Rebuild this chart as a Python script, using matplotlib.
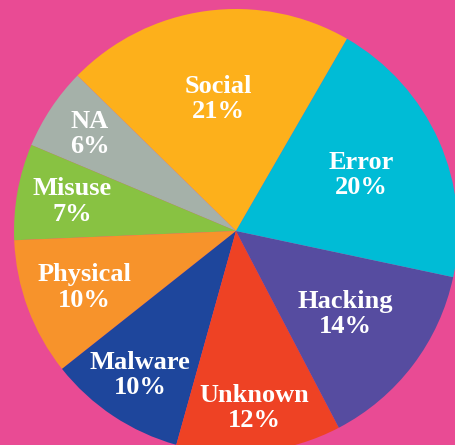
import numpy as np
import matplotlib
matplotlib.use('Agg')
import matplotlib.pyplot as plt

categories = ["Social", "NA", "Misuse", "Physical", "Malware", "Unknown", "Hacking", "Error"]
shares = [21, 6, 7, 10, 10, 12, 14, 20]
colors = ["#FDB01B", "#A5B1A9", "#88C242", "#F7932B", "#1E469C", "#EE4224", "#564CA0", "#00BCD6"]
# how far out (fraction of radius) each label sits
label_dist = [0.60, 0.79, 0.75, 0.73, 0.78, 0.80, 0.62, 0.62]

bg = "#E94B94"

fig = plt.figure(figsize=(4.56, 4.45), dpi=100, facecolor=bg)
# pie centre ~ (236, 231) px, radius ~222 px
ax = fig.add_axes([14 / 456, -8 / 445, 444 / 456, 444 / 445])
ax.set_facecolor(bg)

wedges, _ = ax.pie(shares, colors=colors, startangle=60, counterclock=True,
                   wedgeprops=dict(linewidth=0))

for w, cat, s, d in zip(wedges, categories, shares, label_dist):
    ang = np.deg2rad((w.theta1 + w.theta2) / 2)
    ax.text(d * np.cos(ang), d * np.sin(ang), f"{cat}\n{s}%",
            color="white", fontsize=19, fontweight="bold", family="Liberation Serif",
            ha="center", va="center", linespacing=1.12)

ax.set_xlim(-1, 1)
ax.set_ylim(-1, 1)
ax.set_aspect('equal')
ax.axis('off')

fig.savefig("out.png", dpi=100, facecolor=bg)
